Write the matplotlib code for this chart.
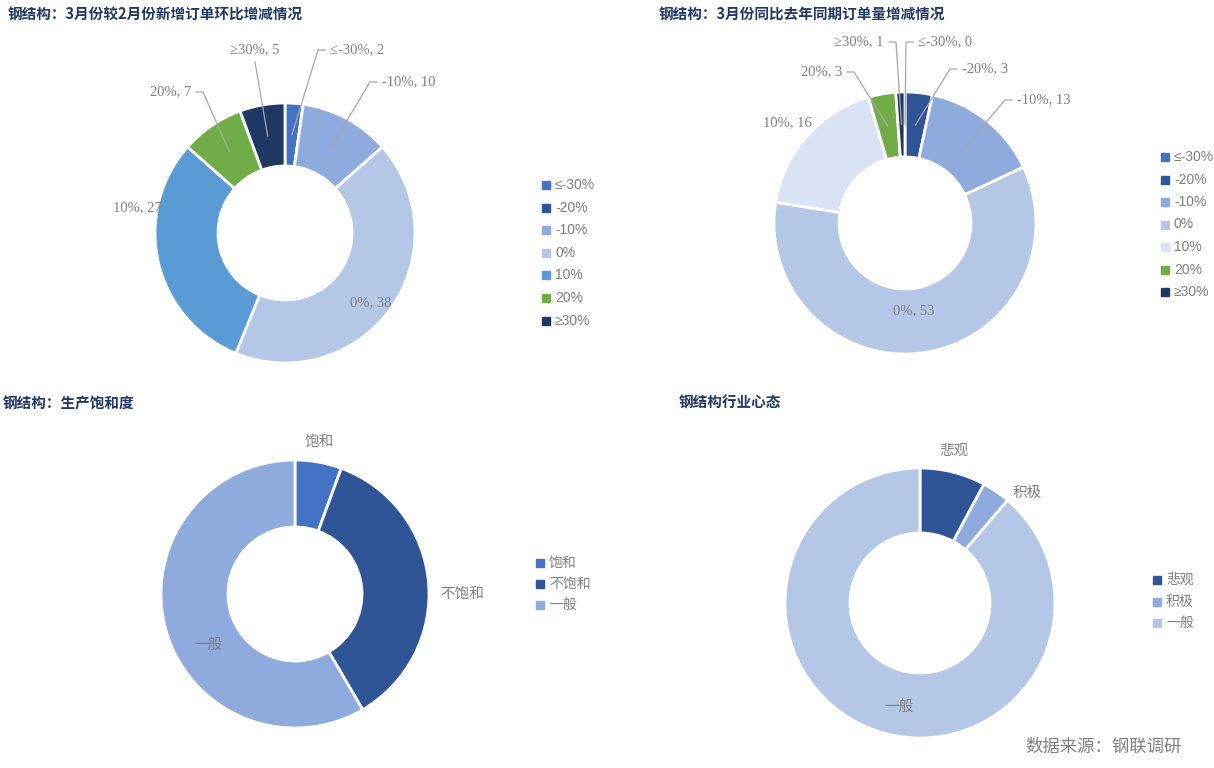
import matplotlib
matplotlib.use("Agg")
import matplotlib.pyplot as plt
import numpy as np

plt.rcParams['font.family'] = ['Noto Sans CJK SC', 'DejaVu Sans']

# ── Data ─────────────────────────────────────────────────────────────
chg_cats = ["≤-30%", "-20%", "-10%", "0%", "10%", "20%", "≥30%"]
mom_vals = [2, 0, 10, 38, 27, 7, 5]        # 3月较2月新增订单
yoy_vals = [0, 3, 13, 53, 16, 3, 1]        # 3月同比去年同期订单量
sat_cats = ["饱和", "不饱和", "一般"]
sat_vals = [5, 32, 52]
mood_cats = ["悲观", "积极", "一般"]
mood_vals = [7, 3, 79]

titles = ["钢结构：3月份较2月份新增订单环比增减情况",
          "钢结构：3月份同比去年同期订单量增减情况",
          "钢结构：生产饱和度",
          "钢结构行业心态"]
source = "数据来源：钢联调研"

# ── Styles ───────────────────────────────────────────────────────────
mom_colors = ["#4472C4", "#2F5597", "#8FAADC", "#B4C7E7", "#5B9BD5", "#70AD47", "#203864"]
yoy_colors = ["#4472C4", "#2F5597", "#8FAADC", "#B4C7E7", "#DAE3F3", "#70AD47", "#203864"]
sat_colors = ["#4472C4", "#2F5597", "#8FAADC"]
mood_colors = ["#2F5597", "#8FAADC", "#B4C7E7"]
TITLE_C = "#1F3864"
LABEL_C = "#7F7F7F"
LINE_C = "#A6A6A6"
SERIF = ['Liberation Serif', 'DejaVu Serif', 'Noto Sans CJK SC']

W, H = 1214, 768
fig = plt.figure(figsize=(W / 100, H / 100), dpi=100)
ax = fig.add_axes([0, 0, 1, 1])


def Y(y):
    return H - y


def donut(vals, colors, cx, cy, R, r):
    wedges, _ = ax.pie(vals, colors=colors, startangle=90, counterclock=False,
                       center=(cx, Y(cy)), radius=R, frame=True,
                       wedgeprops=dict(width=R - r, edgecolor="white", linewidth=2))
    return wedges


def anchor(w, cx, cy, rm):
    a = np.deg2rad((w.theta1 + w.theta2) / 2)
    return cx + rm * np.cos(a), Y(cy) + rm * np.sin(a)


def labels(wedges, cats, vals, cx, cy, rm, spec):
    # spec: idx -> (x, y, side) ; side None = no leader
    for i, (tx, ty, side) in spec.items():
        txt = f"{cats[i]}, {vals[i]}"
        ha = "right" if side == "r" else "left"
        ax.text(tx, Y(ty), txt, ha=ha, va="center", color=LABEL_C,
                fontsize=10.5, family=SERIF)
        if side is None:
            continue
        ax_, ay_ = anchor(wedges[i], cx, cy, rm)
        if side == "l":
            pts = [(tx - 5, Y(ty)), (tx - 12, Y(ty)), (ax_, ay_)]
        elif side == "r":
            pts = [(tx + 5, Y(ty)), (tx + 12, Y(ty)), (ax_, ay_)]
        else:
            pts = [(tx + 25, Y(ty) - 12), (ax_, ay_)]
        xs, ys = zip(*pts)
        ax.plot(xs, ys, color=LINE_C, lw=0.9)


def legend(cats, colors, x, y0, dy):
    for k, (c, col) in enumerate(zip(cats, colors)):
        y = Y(y0 + k * dy)
        ax.plot(x, y, marker="s", ms=5.5, color=col, ls="none")
        ax.text(x + 9, y, c, va="center", ha="left", color=LABEL_C, fontsize=10,
                family=['Liberation Sans', 'Noto Sans CJK SC', 'DejaVu Sans'])


# ── Chart 1 ──────────────────────────────────────────────────────────
cx, cy, R, r = 285, 233, 130, 67
w1 = donut(mom_vals, mom_colors, cx, cy, R, r)
labels(w1, chg_cats, mom_vals, cx, cy, (R + r) / 2, {
    0: (330, 50, "l"), 2: (382, 82, "l"), 3: (350, 303, None),
    4: (113, 208, None), 5: (191, 92, "r"), 6: (230, 50, "b")})
legend(chg_cats, mom_colors, 546, 185, 22.6)

# ── Chart 2 ──────────────────────────────────────────────────────────
cx, cy, R, r = 905, 223, 131, 66
w2 = donut(yoy_vals, yoy_colors, cx, cy, R, r)
labels(w2, chg_cats, yoy_vals, cx, cy, (R + r) / 2, {
    6: (884, 42, "r"), 0: (918, 42, "l"), 5: (842, 72, "r"),
    1: (962, 69, "l"), 2: (1017, 100, "l"), 4: (763, 123, None),
    3: (893, 311, None)})
legend(chg_cats, yoy_colors, 1165, 157, 22.5)

# ── Chart 3 ──────────────────────────────────────────────────────────
cx, cy, R, r = 295, 594, 134, 67
w3 = donut(sat_vals, sat_colors, cx, cy, R, r)
for (tx, ty), c in zip([(305, 442), (440, 594), (193, 645)], sat_cats):
    ax.text(tx, Y(ty), c, ha="left", va="center", color=LABEL_C, fontsize=10.5)
legend(sat_cats, sat_colors, 540, 563, 21)

# ── Chart 4 ──────────────────────────────────────────────────────────
cx, cy, R, r = 920, 603, 135, 70
w4 = donut(mood_vals, mood_colors, cx, cy, R, r)
for (tx, ty), c in zip([(939, 451), (1013, 493), (884, 707)], mood_cats):
    ax.text(tx, Y(ty), c, ha="left", va="center", color=LABEL_C, fontsize=10.5)
legend(mood_cats, mood_colors, 1157, 580, 21.5)

# ── Titles / source ──────────────────────────────────────────────────
for (tx, ty), t in zip([(8, 14), (659, 14), (3, 403), (679, 403)], titles):
    ax.text(tx, Y(ty), t, ha="left", va="center", color=TITLE_C,
            fontsize=10.5, fontweight="bold")
ax.text(1025, Y(747), source, ha="left", va="center", color=LABEL_C, fontsize=12.5)

ax.set_xlim(0, W)
ax.set_ylim(0, H)
ax.set_aspect("auto")
ax.axis("off")
fig.savefig("out.png", dpi=100)
